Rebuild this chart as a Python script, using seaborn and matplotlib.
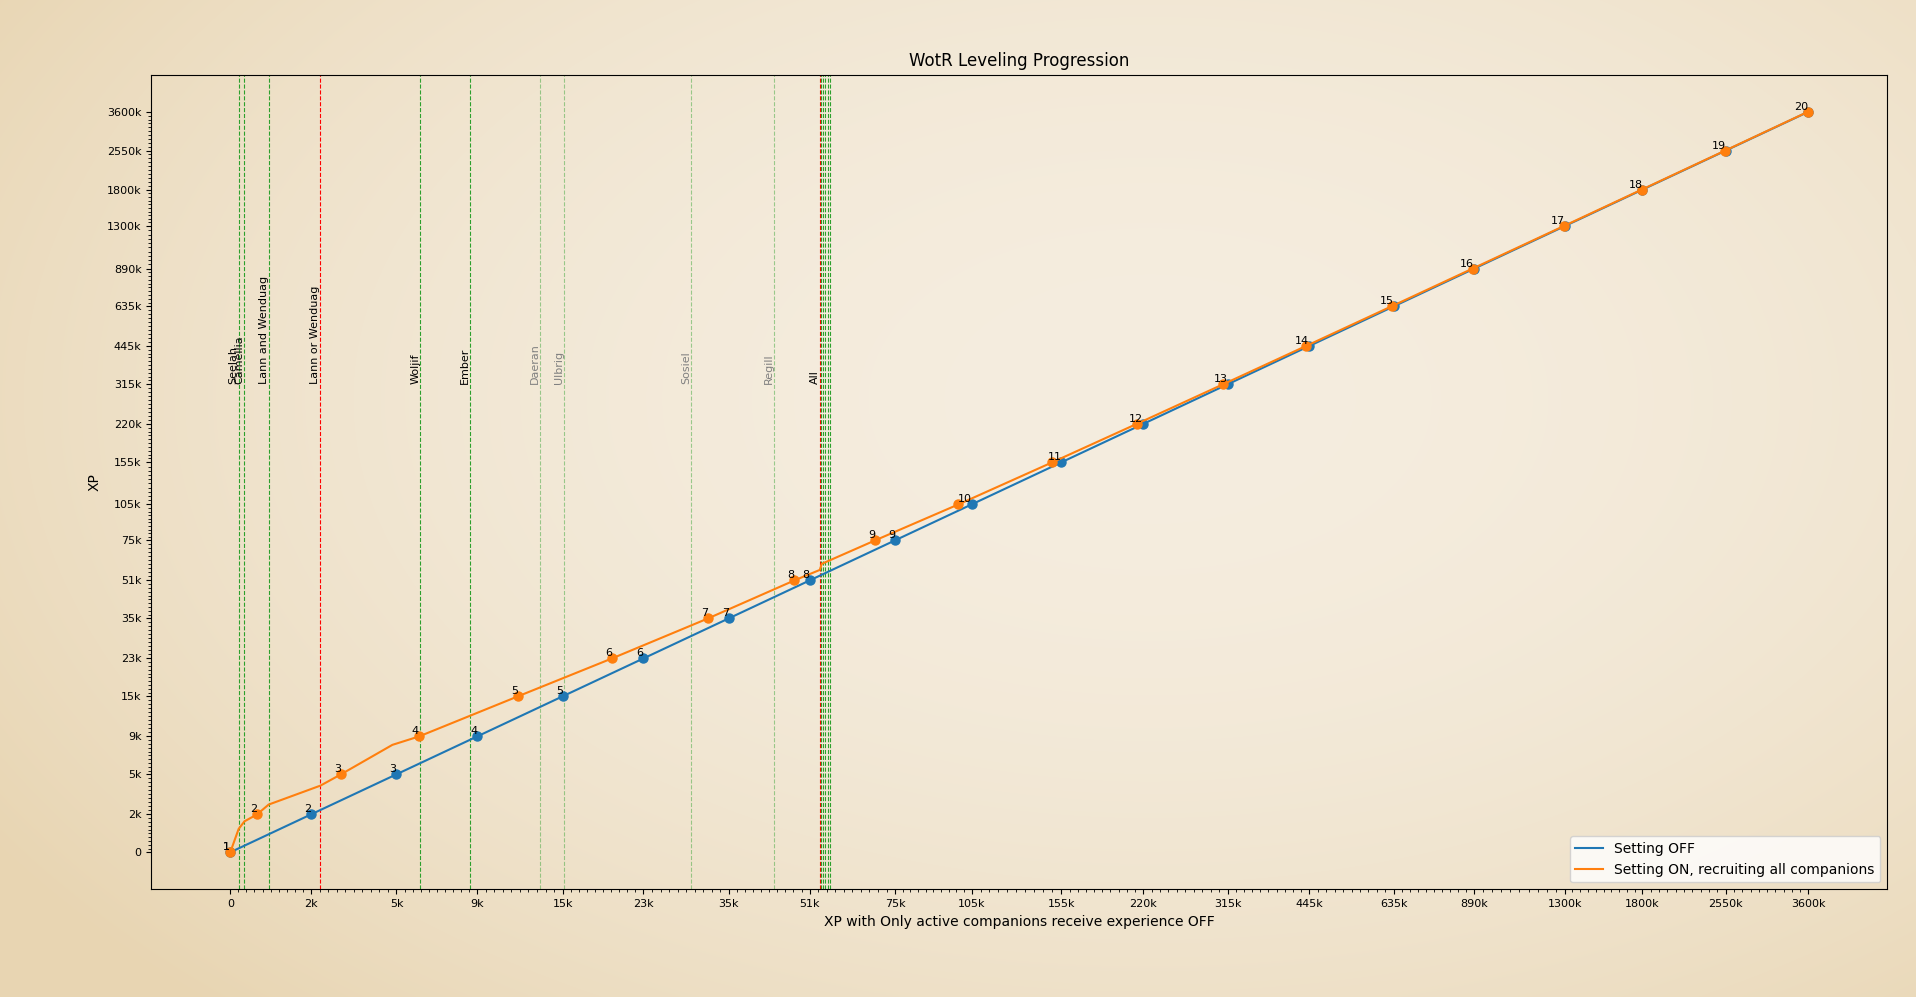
import numpy as np
import pandas as pd
import matplotlib
matplotlib.use('Agg')
import matplotlib.pyplot as plt
import seaborn as sns
from matplotlib.ticker import FixedLocator, FixedFormatter

# level thresholds (XP), also used as the tick positions of both axes
thresholds = [0, 2000, 5000, 9000, 15000, 23000, 35000, 51000, 75000, 105000,
              155000, 220000, 315000, 445000, 635000, 890000, 1300000, 1800000,
              2550000, 3600000]
tick_labels = ['0', '2k', '5k', '9k', '15k', '23k', '35k', '51k', '75k', '105k',
               '155k', '220k', '315k', '445k', '635k', '890k', '1300k', '1800k',
               '2550k', '3600k']
levels = list(range(1, 21))

# setting ON: OFF-xp at which each level is reached
on_level_x = [0, 590, 2935, 5985, 11600, 19560, 31700, 47530, 68640, 99080,
              149040, 213990, 309000, 439000, 629000, 884000, 1294000, 1794000,
              2544000, 3594000]
# extra vertices of the ON curve (party changes)
on_kink_x = [178, 305, 867, 2283, 4830, 53440, 53880]
on_kink_y = [1156, 1584, 2640, 4044, 7990, 56500, 59870]

# companion events
comp_names = ['Seelah', 'Camellia', 'Lann and Wenduag', 'Lann or Wenduag', 'Woljif',
              'Ember', 'Daeran', 'Ulbrig', 'Sosiel', 'Regill', 'All']
comp_xp = [178, 305, 867, 2283, 6049, 8607, 13160, 15117, 29190, 43240, 53440]
comp_kind = ['join', 'join', 'join', 'choice', 'join', 'join', 'optional', 'optional',
             'optional', 'optional', 'choice']
all_extra_xp = [53830, 54320, 54815, 55570, 56075]

OFFSET = 5000.0


def fwd(v):
    v = np.asarray(v, dtype=float)
    return np.log10(np.maximum(v + OFFSET, 1e-9))


def inv(u):
    return 10 ** np.asarray(u, dtype=float) - OFFSET


off_df = pd.DataFrame({'x': thresholds, 'y': thresholds})
on_pts = pd.DataFrame({'x': on_level_x, 'y': thresholds})
on_df = pd.concat([on_pts, pd.DataFrame({'x': on_kink_x, 'y': on_kink_y})])
on_df = on_df.sort_values('x').reset_index(drop=True)

fig = plt.figure(figsize=(19.16, 9.97), dpi=100)
fig.patch.set_facecolor('#f1e6d1')

# parchment-like vignette behind everything
h, w = 997, 1916
yy, xx = np.mgrid[0:h, 0:w]
r = np.sqrt(((xx - w * 0.6) / (w * 0.6)) ** 2 + ((yy - h * 0.4) / (h * 0.7)) ** 2)
r = np.clip(r, 0, 1.2) / 1.2
c0 = np.array([245, 237, 223]) / 255
c1 = np.array([232, 213, 178]) / 255
bg = c0[None, None, :] * (1 - r[..., None] ** 2) + c1[None, None, :] * r[..., None] ** 2
fig.figimage(bg, xo=0, yo=0, zorder=-10)

ax = fig.add_axes([0.079, 0.108, 0.906, 0.817])
ax.set_facecolor('none')
ax.set_xscale('function', functions=(fwd, inv))
ax.set_yscale('function', functions=(fwd, inv))

for name, xp, kind in zip(comp_names, comp_xp, comp_kind):
    if kind == 'optional':
        ax.axvline(xp, color='tab:green', ls='--', lw=0.8, alpha=0.45)
        tc = 'gray'
    else:
        ax.axvline(xp, color='red' if kind == 'choice' else 'tab:green', ls='--', lw=0.8)
        tc = 'black'
    ax.text(xp, thresholds[12], name, rotation=90, ha='right', va='bottom', color=tc, fontsize=8)
for xp in all_extra_xp:
    ax.axvline(xp, color='tab:green', ls='--', lw=0.8)

sns.lineplot(data=off_df, x='x', y='y', sort=False, color='tab:blue', lw=1.5,
             label='Setting OFF', ax=ax)
ax.plot(off_df['x'], off_df['y'], 'o', color='tab:blue', ms=6.5)
sns.lineplot(data=on_df, x='x', y='y', sort=False, color='tab:orange', lw=1.5,
             label='Setting ON, recruiting all companions', ax=ax)
ax.plot(on_pts['x'], on_pts['y'], 'o', color='tab:orange', ms=6.5)

for lv, x, y in zip(levels, thresholds, thresholds):
    ax.text(x, y, str(lv), ha='right', va='bottom', fontsize=8)
for lv, x, y in zip(levels[:9], on_level_x[:9], thresholds[:9]):
    ax.text(x, y, str(lv), ha='right', va='bottom', fontsize=8)

# minor ticks: ten even steps between each pair of major ticks
u = fwd(thresholds)
minor = np.concatenate([inv(np.linspace(a, b, 11)[1:-1]) for a, b in zip(u[:-1], u[1:])])
for axis in (ax.xaxis, ax.yaxis):
    axis.set_major_locator(FixedLocator(thresholds))
    axis.set_major_formatter(FixedFormatter(tick_labels))
    axis.set_minor_locator(FixedLocator(minor))
ax.tick_params(axis='both', which='major', labelsize=8)

span = u[-1] - u[0]
lo, hi = inv(u[0] - 0.05 * span), inv(u[-1] + 0.05 * span)
ax.set_xlim(lo, hi)
ax.set_ylim(lo, hi)

ax.set_title('WotR Leveling Progression', fontsize=12)
ax.set_xlabel('XP with Only active companions receive experience OFF')
ax.set_ylabel('XP')
ax.legend(loc='lower right')

fig.savefig('out.png', dpi=100, facecolor=fig.get_facecolor())
